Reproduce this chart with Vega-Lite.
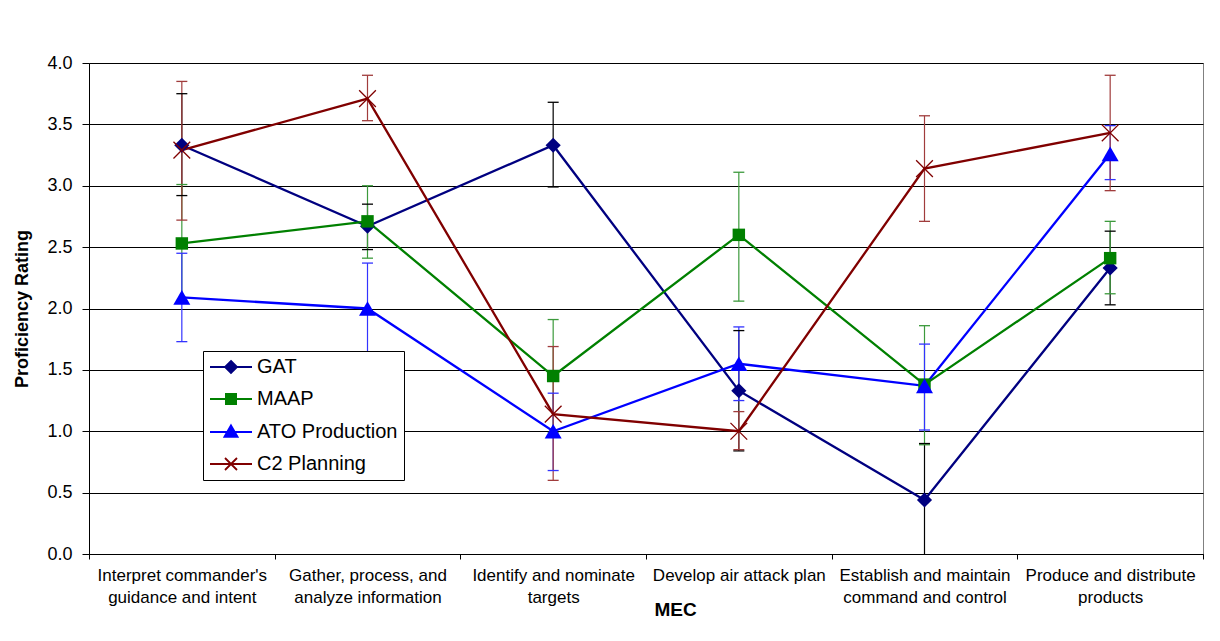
{
  "$schema": "https://vega.github.io/schema/vega-lite/v6.json",
  "width": 1114,
  "height": 491,
  "autosize": {"type": "none"},
  "padding": {"left": 89, "top": 63, "right": 17, "bottom": 87},
  "background": "white",
  "config": {
    "font": "Liberation Sans",
    "view": {"stroke": "#808080", "strokeWidth": 1},
    "axis": {"labelColor": "#000", "titleColor": "#000", "domainColor": "#000", "tickColor": "#000", "labelFont": "Liberation Sans", "titleFont": "Liberation Sans"}
  },
  "data": {"values": [
    {"series": "GAT", "mec": "Interpret commander's|guidance and intent", "value": 3.33, "lo": 2.92, "hi": 3.75},
    {"series": "GAT", "mec": "Gather, process, and|analyze information", "value": 2.67, "lo": 2.48, "hi": 2.85},
    {"series": "GAT", "mec": "Identify and nominate|targets", "value": 3.33, "lo": 2.99, "hi": 3.68},
    {"series": "GAT", "mec": "Develop air attack plan", "value": 1.33, "lo": 0.84, "hi": 1.82},
    {"series": "GAT", "mec": "Establish and maintain|command and control", "value": 0.44, "lo": -0.02, "hi": 0.9},
    {"series": "GAT", "mec": "Produce and distribute|products", "value": 2.33, "lo": 2.03, "hi": 2.63},
    {"series": "MAAP", "mec": "Interpret commander's|guidance and intent", "value": 2.53, "lo": 2.05, "hi": 3.01},
    {"series": "MAAP", "mec": "Gather, process, and|analyze information", "value": 2.71, "lo": 2.41, "hi": 3.0},
    {"series": "MAAP", "mec": "Identify and nominate|targets", "value": 1.45, "lo": 0.99, "hi": 1.91},
    {"series": "MAAP", "mec": "Develop air attack plan", "value": 2.6, "lo": 2.06, "hi": 3.11},
    {"series": "MAAP", "mec": "Establish and maintain|command and control", "value": 1.38, "lo": 0.89, "hi": 1.86},
    {"series": "MAAP", "mec": "Produce and distribute|products", "value": 2.41, "lo": 2.12, "hi": 2.71},
    {"series": "ATO Production", "mec": "Interpret commander's|guidance and intent", "value": 2.09, "lo": 1.73, "hi": 2.45},
    {"series": "ATO Production", "mec": "Gather, process, and|analyze information", "value": 2.0, "lo": 1.63, "hi": 2.37},
    {"series": "ATO Production", "mec": "Identify and nominate|targets", "value": 1.0, "lo": 0.68, "hi": 1.31},
    {"series": "ATO Production", "mec": "Develop air attack plan", "value": 1.55, "lo": 1.25, "hi": 1.85},
    {"series": "ATO Production", "mec": "Establish and maintain|command and control", "value": 1.37, "lo": 1.01, "hi": 1.71},
    {"series": "ATO Production", "mec": "Produce and distribute|products", "value": 3.26, "lo": 3.05, "hi": 3.49},
    {"series": "C2 Planning", "mec": "Interpret commander's|guidance and intent", "value": 3.29, "lo": 2.72, "hi": 3.85},
    {"series": "C2 Planning", "mec": "Gather, process, and|analyze information", "value": 3.71, "lo": 3.53, "hi": 3.9},
    {"series": "C2 Planning", "mec": "Identify and nominate|targets", "value": 1.14, "lo": 0.6, "hi": 1.69},
    {"series": "C2 Planning", "mec": "Develop air attack plan", "value": 1.0, "lo": 0.85, "hi": 1.16},
    {"series": "C2 Planning", "mec": "Establish and maintain|command and control", "value": 3.14, "lo": 2.71, "hi": 3.57},
    {"series": "C2 Planning", "mec": "Produce and distribute|products", "value": 3.43, "lo": 2.96, "hi": 3.9}
  ]},
  "encoding": {
    "x": {
      "field": "mec",
      "type": "nominal",
      "sort": null,
      "scale": {"type": "band", "paddingInner": 0, "paddingOuter": 0},
      "axis": {
        "title": "MEC",
        "labelExpr": "isValid(datum.value) ? split(datum.value, '|') : ''",
        "labelAngle": 0,
        "labelFontSize": 17,
        "labelLineHeight": 22,
        "labelPadding": 8,
        "labelLimit": 0,
        "tickBand": "extent",
        "tickSize": 5,
        "grid": false,
        "titleFontSize": 19,
        "titleFontWeight": "bold",
        "titleX": 586,
        "titleY": 55,
        "titleAlign": "center",
        "titleBaseline": "middle"
      }
    }
  },
  "layer": [
    {
      "mark": {"type": "rule", "strokeWidth": 1.2, "clip": true},
      "encoding": {
        "y": {
          "field": "lo",
          "type": "quantitative",
          "title": "Proficiency Rating",
          "scale": {"domain": [0, 4], "nice": false},
          "axis": {
            "values": [0, 0.5, 1, 1.5, 2, 2.5, 3, 3.5, 4],
            "format": ".1f",
            "labelFontSize": 18,
            "tickSize": 7,
            "labelPadding": 10,
            "grid": true,
            "gridColor": "#000",
            "gridWidth": 1,
            "titleFontSize": 18,
            "titleFontWeight": "bold",
            "titleAngle": -90,
            "titleX": -67,
            "titleY": 245.5,
            "titleAlign": "center",
            "titleBaseline": "middle"
          }
        },
        "y2": {"field": "hi"},
        "stroke": {
          "field": "series",
          "type": "nominal",
          "scale": {"domain": ["C2 Planning", "ATO Production", "MAAP", "GAT"], "range": ["#a03c3c", "#3333ff", "#3c9a3c", "#000000"]},
          "legend": null
        }
      }
    },
    {
      "mark": {"type": "point", "shape": "M-1,0H1", "size": 121, "filled": false, "strokeWidth": 1.3, "opacity": 1, "clip": true},
      "encoding": {
        "y": {"field": "lo", "type": "quantitative", "title": "Proficiency Rating"},
        "stroke": {"field": "series", "type": "nominal", "legend": null}
      }
    },
    {
      "mark": {"type": "point", "shape": "M-1,0H1", "size": 121, "filled": false, "strokeWidth": 1.3, "opacity": 1, "clip": true},
      "encoding": {
        "y": {"field": "hi", "type": "quantitative", "title": "Proficiency Rating"},
        "stroke": {"field": "series", "type": "nominal", "legend": null}
      }
    },
    {
      "mark": {"type": "line", "strokeWidth": 2.3},
      "encoding": {
        "y": {"field": "value", "type": "quantitative", "title": "Proficiency Rating"},
        "color": {
          "field": "series",
          "type": "nominal",
          "scale": {"domain": ["GAT", "MAAP", "ATO Production", "C2 Planning"], "range": ["#000080", "#008000", "#0000ff", "#800000"]},
          "legend": {
            "title": null,
            "orient": "none",
            "legendX": 114,
            "legendY": 288,
            "fillColor": "white",
            "strokeColor": "#000",
            "padding": 6,
            "labelFont": "Liberation Sans",
            "labelFontSize": 20,
            "labelColor": "#000",
            "symbolSize": 144,
            "symbolOffset": 12,
            "labelOffset": 16,
            "rowPadding": 12,
            "symbolStrokeWidth": 1.8,
            "encode": {
              "symbols": {
                "update": {
                  "shape": {"signal": "datum.value === 'GAT' ? 'M-3.5,0H3.5M0,-1L1,0L0,1L-1,0Z' : datum.value === 'MAAP' ? 'M-3.5,0H3.5M-0.85,-0.85H0.85V0.85H-0.85Z' : datum.value === 'ATO Production' ? 'M-3.5,0H3.5M0,-1.1L1.1,0.8H-1.1Z' : 'M-3.5,0H3.5M-1,-1L1,1M-1,1L1,-1'"},
                  "fill": {"scale": "color", "field": "value"},
                  "stroke": {"scale": "color", "field": "value"},
                  "strokeWidth": {"value": 1.8},
                  "opacity": {"value": 1}
                }
              }
            }
          }
        }
      }
    },
    {
      "transform": [{"filter": "datum.series === 'GAT'"}],
      "mark": {"type": "point", "shape": "diamond", "size": 230, "filled": true, "opacity": 1},
      "encoding": {
        "y": {"field": "value", "type": "quantitative", "title": "Proficiency Rating"},
        "color": {"field": "series", "type": "nominal"}
      }
    },
    {
      "transform": [{"filter": "datum.series === 'MAAP'"}],
      "mark": {"type": "point", "shape": "square", "size": 155, "filled": true, "opacity": 1},
      "encoding": {
        "y": {"field": "value", "type": "quantitative", "title": "Proficiency Rating"},
        "color": {"field": "series", "type": "nominal"}
      }
    },
    {
      "transform": [{"filter": "datum.series === 'ATO Production'"}],
      "mark": {"type": "point", "shape": "triangle-up", "size": 289, "filled": true, "opacity": 1},
      "encoding": {
        "y": {"field": "value", "type": "quantitative", "title": "Proficiency Rating"},
        "color": {"field": "series", "type": "nominal"}
      }
    },
    {
      "transform": [{"filter": "datum.series === 'C2 Planning'"}],
      "mark": {"type": "point", "shape": "M-1,-1L1,1M-1,1L1,-1", "size": 280, "filled": false, "strokeWidth": 1.3, "opacity": 1},
      "encoding": {
        "y": {"field": "value", "type": "quantitative", "title": "Proficiency Rating"},
        "color": {"field": "series", "type": "nominal"}
      }
    }
  ]
}
